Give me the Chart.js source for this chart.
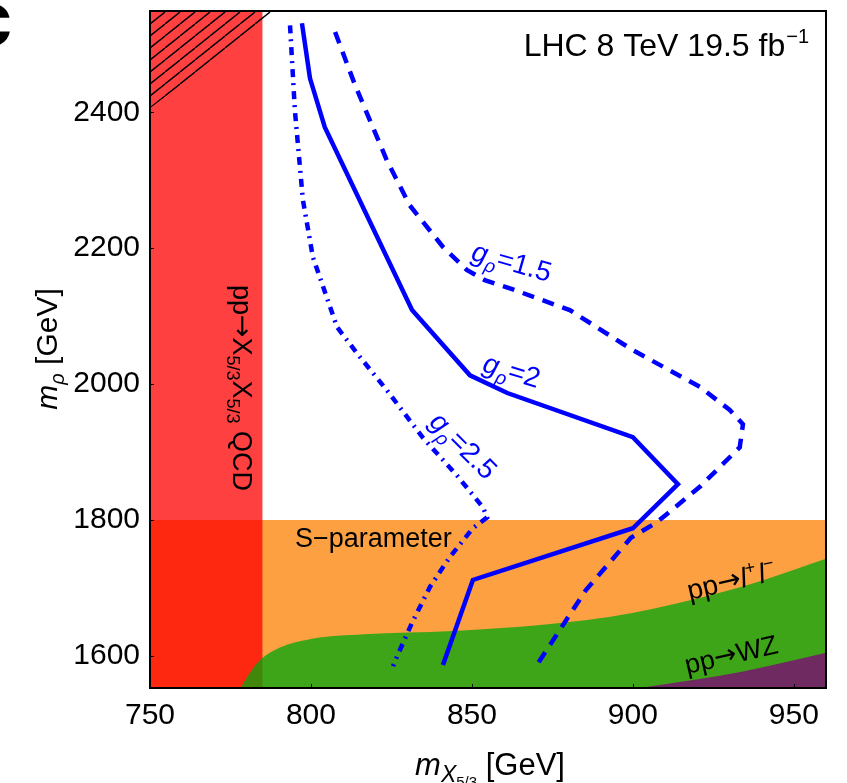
<!DOCTYPE html>
<html>
<head>
<meta charset="utf-8">
<script src="https://cdn.jsdelivr.net/npm/chart.js@4/dist/chart.umd.min.js"></script>
<style>
html, body { margin: 0; padding: 0; background: #fff; }
#wrap { width: 847px; height: 783px; }
</style>
</head>
<body>
<div id="wrap"><canvas id="limits" width="847" height="783"></canvas></div>
<script>
// axis ranges and ticks (GeV)
const xMin = 750, xMax = 960;
const yMin = 1553, yMax = 2549;
const xTicks = [750, 800, 850, 900, 950];
const yTicks = [1600, 1800, 2000, 2200, 2400];

// excluded regions
const qcdMass = 785;        // pp -> X5/3 X5/3 QCD
const sParamLimit = 1800;   // S-parameter
const hatchX = [750, 792];
const hatchY = [2406, 2556];
const llX = [778, 783.5, 788.8, 800, 816.5, 844, 872, 899.4, 927, 940.7, 960];
const llY = [1553, 1591, 1609, 1625, 1632, 1637, 1646, 1663, 1693, 1712, 1743];
const wzX = [902, 927, 940.7, 960];
const wzY = [1553, 1571, 1584, 1605];

// limit curves for g_rho = 1.5, 2, 2.5
const g15X = [807.5, 813.7, 823.6, 830.7, 841, 848.4, 854, 861.8, 880.4, 900, 920.8, 930.1, 934.2, 933.2, 920.8, 907.5, 899.4, 885.4, 870.2];
const g15Y = [2518, 2440, 2329, 2263, 2202, 2168, 2153, 2141, 2109, 2050, 1996, 1962, 1941, 1907, 1849, 1797, 1774, 1697, 1587];
const g2X = [797.2, 799.7, 804.3, 831.4, 849.4, 861, 900, 914, 900, 850.3, 841];
const g2Y = [2531, 2450, 2378, 2109, 2013, 1987, 1922, 1853, 1788, 1712, 1587];
const g25X = [793.5, 795, 797.5, 800.6, 808.1, 815.2, 823.6, 834.8, 845.3, 853.4, 854.7, 850.3, 843.2, 837, 831.4, 826.7, 825.5];
const g25Y = [2528, 2403, 2271, 2187, 2084, 2040, 1991, 1921, 1866, 1819, 1804, 1788, 1746, 1702, 1649, 1599, 1585];

const FAMILY = '"Liberation Sans", Arial, Helvetica, sans-serif';
const ARROW_FAMILY = '"DejaVu Sans", sans-serif';
const BLUE = '#0000ff';

const pts = (xs, ys) => xs.map((x, i) => ({ x: x, y: ys[i] }));

function hatchPattern() {
  const w = 15, h = 12;
  const c = document.createElement('canvas');
  c.width = w; c.height = h;
  const g = c.getContext('2d');
  g.strokeStyle = '#000';
  g.lineWidth = 1.4;
  g.beginPath();
  for (const dx of [-w, 0, w]) {
    g.moveTo(dx, h);
    g.lineTo(dx + w, 0);
  }
  g.stroke();
  return g.createPattern(c, 'repeat');
}

function fontOf(p, size) {
  return (p.it ? 'italic ' : '') + (p.bold ? 'bold ' : '') + (p.size || size) + 'px ' + (p.fam || FAMILY);
}

// text with sub/superscripts, anchored at its visual middle
function drawRich(ctx, parts, x, y, opts) {
  const size = opts.size, angle = opts.angle || 0;
  ctx.save();
  ctx.translate(x, y);
  ctx.rotate(angle * Math.PI / 180);
  ctx.fillStyle = opts.color || '#000';
  ctx.textAlign = 'left';
  ctx.textBaseline = 'alphabetic';
  const widths = parts.map(p => { ctx.font = fontOf(p, size); return ctx.measureText(p.t).width + (p.gap || 0); });
  const total = widths.reduce((a, b) => a + b, 0);
  let cx = opts.align === 'right' ? -total : opts.align === 'left' ? 0 : -total / 2;
  const base = 0.36 * size;
  parts.forEach((p, i) => {
    ctx.font = fontOf(p, size);
    ctx.fillText(p.t, cx + (p.gap || 0), base + (p.dy || 0));
    cx += widths[i];
  });
  ctx.restore();
}

const arrow = { t: '\u2192', fam: ARROW_FAMILY, dy: -1 };

const decor = {
  id: 'decor',
  afterDatasetsDraw(chart) {
    const ctx = chart.ctx, a = chart.chartArea;
    const xs = chart.scales.x, ys = chart.scales.y;

    // frame with small inward ticks
    ctx.save();
    ctx.strokeStyle = '#000';
    ctx.lineWidth = 1;
    ctx.beginPath();
    xTicks.forEach(v => {
      const px = Math.round(xs.getPixelForValue(v)) + 0.5;
      ctx.moveTo(px, a.bottom); ctx.lineTo(px, a.bottom - 4);
    });
    yTicks.forEach(v => {
      const py = Math.round(ys.getPixelForValue(v)) + 0.5;
      ctx.moveTo(a.left, py); ctx.lineTo(a.left + 4, py);
    });
    ctx.stroke();
    ctx.lineWidth = 2;
    ctx.strokeRect(a.left, a.top, a.right - a.left, a.bottom - a.top);
    ctx.restore();

    // region labels
    drawRich(ctx, [{ t: 'LHC 8 TeV 19.5 fb' }, { t: '\u22121', size: 20, dy: -13, gap: 1 }], 809, 44, { size: 32, align: 'right' });
    drawRich(ctx, [{ t: 'S\u2212parameter' }], 295, 537, { size: 27, align: 'left' });
    drawRich(ctx, [{ t: 'pp' }, arrow, { t: 'l', it: true }, { t: '+', size: 18, dy: -12 }, { t: 'l', it: true, gap: 2 }, { t: '\u2212', size: 18, dy: -12 }],
      731, 580, { size: 28, angle: -13 });
    drawRich(ctx, [{ t: 'pp' }, arrow, { t: 'WZ' }], 731, 654, { size: 27, angle: -13 });
    drawRich(ctx, [{ t: 'pp' }, arrow, { t: 'X' }, { t: '5/3', size: 18, dy: 6 }, { t: 'X' }, { t: '5/3', size: 18, dy: 6 }, { t: ' QCD' }],
      243, 388, { size: 27, angle: 90 });

    // curve labels
    const g = v => [{ t: 'g', it: true }, { t: '\u03c1', it: true, size: 19, dy: 7 }, { t: '=' + v }];
    drawRich(ctx, g('1.5'), 512, 261, { size: 28, angle: 16, color: BLUE });
    drawRich(ctx, g('2'), 512, 370, { size: 28, angle: 17, color: BLUE });
    drawRich(ctx, g('2.5'), 464, 445, { size: 28, angle: 45, color: BLUE });

    // axis titles
    drawRich(ctx, [{ t: 'm', it: true }, { t: '\u03c1', it: true, size: 20, dy: 7 }, { t: ' [GeV]' }], 46, 349, { size: 30, angle: -90 });
    drawRich(ctx, [{ t: 'm', it: true }, { t: 'X', it: true, size: 23, dy: 7 }, { t: '5/3', size: 15, dy: 12 }, { t: ' [GeV]' }], 490, 764, { size: 31 });

    // panel letter
    ctx.save();
    ctx.font = 'bold 76px ' + FAMILY;
    ctx.fillStyle = '#000';
    ctx.textAlign = 'right';
    ctx.fillText('c', 12, 45);
    ctx.restore();
  }
};

const area = (data, color, order, fill) => ({
  data: data, showLine: true, pointRadius: 0, borderWidth: 0,
  borderColor: 'rgba(0,0,0,0)', backgroundColor: color, fill: fill || 'start', order: order,
  cubicInterpolationMode: 'monotone'
});
const curve = (data, dash, order) => ({
  data: data, showLine: true, pointRadius: 0, borderWidth: 4.5,
  borderColor: BLUE, borderDash: dash, fill: false, order: order, tension: 0
});

const noPad = s => { s.paddingTop = 0; s.paddingBottom = 0; s.paddingLeft = 0; s.paddingRight = 0; };

new Chart(document.getElementById('limits'), {
  type: 'scatter',
  data: {
    datasets: [
      area([{ x: xMin, y: sParamLimit }, { x: xMax, y: sParamLimit }], 'rgb(252,160,66)', 8),
      area([{ x: xMin, y: yMax + 50 }, { x: qcdMass, y: yMax + 50 }], 'rgba(255,0,0,0.75)', 7),
      area(pts(hatchX, hatchY), hatchPattern(), 6, 'end'),
      area(pts(llX, llY), 'rgba(0,167,11,0.75)', 5),
      area(pts(wzX, wzY), 'rgba(120,20,110,0.85)', 4),
      curve(pts(g25X, g25Y), [8, 6, 2, 6], 3),
      curve(pts(g2X, g2Y), [], 2),
      curve(pts(g15X, g15Y), [12, 9], 1)
    ]
  },
  options: {
    responsive: false,
    animation: false,
    devicePixelRatio: 1,
    events: [],
    layout: { padding: { left: 0, top: 11, right: 21, bottom: 0 } },
    plugins: { legend: { display: false }, tooltip: { enabled: false } },
    scales: {
      x: {
        type: 'linear', min: xMin, max: xMax,
        afterBuildTicks: s => { s.ticks = xTicks.map(v => ({ value: v })); },
        afterFit: s => { s.height = 95; noPad(s); },
        grid: { display: false, drawTicks: false },
        border: { display: false },
        ticks: { color: '#000', font: { family: FAMILY, size: 30 }, padding: 10, maxRotation: 0, autoSkip: false,
          callback: v => String(v) }
      },
      y: {
        type: 'linear', min: yMin, max: yMax,
        afterBuildTicks: s => { s.ticks = yTicks.map(v => ({ value: v })); },
        afterFit: s => { s.width = 150; noPad(s); },
        grid: { display: false, drawTicks: false },
        border: { display: false },
        ticks: { color: '#000', font: { family: FAMILY, size: 30 }, padding: 10, autoSkip: false,
          callback: v => String(v) }
      }
    }
  },
  plugins: [decor]
});
</script>
</body>
</html>
